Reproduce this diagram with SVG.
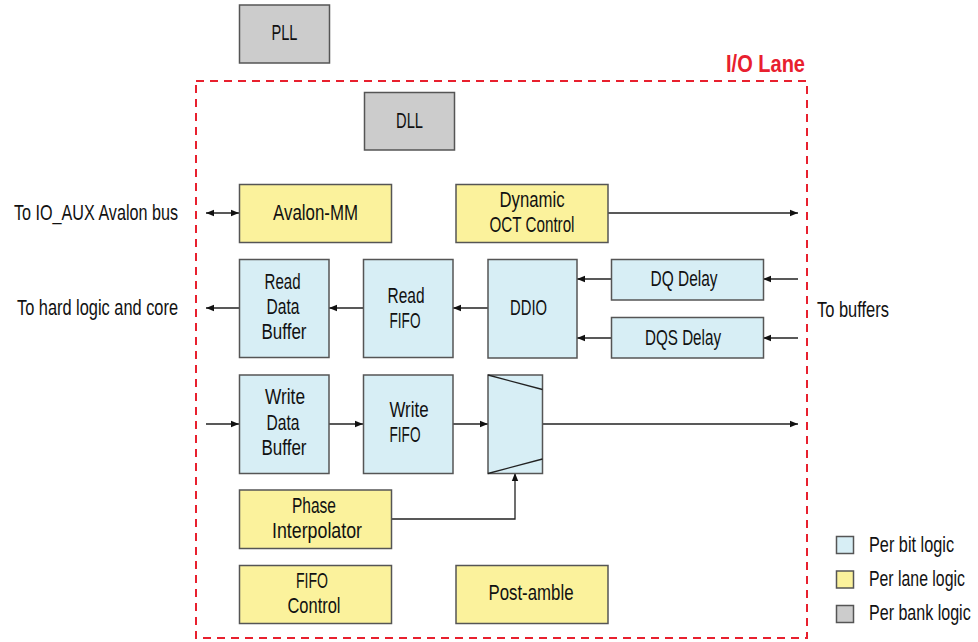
<svg xmlns="http://www.w3.org/2000/svg" width="978" height="642" viewBox="0 0 978 642">
<defs>
<style>
text{font-family:"Liberation Sans",Arial,sans-serif;font-size:22px;fill:#111;}
.c{text-anchor:middle;}
.r{text-anchor:end;}
.bit{fill:#d7eef5;stroke:#555;stroke-width:1.5;}
.lane{fill:#fbf29c;stroke:#555;stroke-width:1.5;}
.bank{fill:#cccccc;stroke:#555;stroke-width:1.5;}
.ln{fill:none;stroke:#222;stroke-width:1.3;}
.title{fill:#e8202e;font-weight:bold;font-size:23px;}
</style>
<marker id="ah" viewBox="0 0 10 10" refX="10" refY="5" markerWidth="8" markerHeight="8" orient="auto-start-reverse" markerUnits="userSpaceOnUse">
<path d="M0,1 L10,5 L0,9 Z" fill="#111"/>
</marker>
</defs>
<rect width="978" height="642" fill="#fff"/>
<rect x="196" y="81" width="611" height="557" fill="none" stroke="#e8202e" stroke-width="2" stroke-dasharray="8,6"/>
<text class="title r" x="805" y="72" textLength="79" lengthAdjust="spacingAndGlyphs">I/O Lane</text>

<g id="connectors">
<line class="ln" x1="206" y1="213" x2="239" y2="213" marker-start="url(#ah)" marker-end="url(#ah)"/>
<line class="ln" x1="608" y1="213" x2="798" y2="213" marker-end="url(#ah)"/>
<line class="ln" x1="798" y1="279" x2="763" y2="279" marker-end="url(#ah)"/>
<line class="ln" x1="798" y1="338" x2="763" y2="338" marker-end="url(#ah)"/>
<line class="ln" x1="611" y1="279" x2="577" y2="279" marker-end="url(#ah)"/>
<line class="ln" x1="611" y1="338" x2="577" y2="338" marker-end="url(#ah)"/>
<line class="ln" x1="488" y1="308" x2="453" y2="308" marker-end="url(#ah)"/>
<line class="ln" x1="363" y1="308" x2="329" y2="308" marker-end="url(#ah)"/>
<line class="ln" x1="239" y1="308" x2="206" y2="308" marker-end="url(#ah)"/>
<line class="ln" x1="206" y1="424" x2="239" y2="424" marker-end="url(#ah)"/>
<line class="ln" x1="329" y1="424" x2="363" y2="424" marker-end="url(#ah)"/>
<line class="ln" x1="453" y1="424" x2="488" y2="424" marker-end="url(#ah)"/>
<line class="ln" x1="542" y1="424" x2="798" y2="424" marker-end="url(#ah)"/>
<polyline class="ln" points="392,519 515,519 515,473" marker-end="url(#ah)"/>
</g>

<g id="PLL"><rect class="bank" x="239.5" y="5" width="90" height="58"/><text class="c" x="284.5" y="40" textLength="26" lengthAdjust="spacingAndGlyphs">PLL</text></g>
<g id="DLL"><rect class="bank" x="364.5" y="92.5" width="90" height="57.5"/><text class="c" x="409.5" y="128" textLength="27" lengthAdjust="spacingAndGlyphs">DLL</text></g>
<g id="AvalonMM"><rect class="lane" x="239.5" y="184.5" width="152" height="58"/><text class="c" x="315.5" y="220" textLength="85" lengthAdjust="spacingAndGlyphs">Avalon-MM</text></g>
<g id="DynamicOCT"><rect class="lane" x="456" y="184.5" width="152" height="58"/><text class="c" x="532" y="207" textLength="65" lengthAdjust="spacingAndGlyphs">Dynamic</text><text class="c" x="532" y="232" textLength="85" lengthAdjust="spacingAndGlyphs">OCT Control</text></g>
<g id="DQDelay"><rect class="bit" x="611.5" y="259.5" width="152" height="40.5"/><text class="c" x="684" y="286" textLength="67" lengthAdjust="spacingAndGlyphs">DQ Delay</text></g>
<g id="DQSDelay"><rect class="bit" x="611.5" y="317.5" width="152" height="40.5"/><text class="c" x="683" y="345" textLength="76" lengthAdjust="spacingAndGlyphs">DQS Delay</text></g>
<g id="DDIO"><rect class="bit" x="488" y="259.5" width="89" height="98.5"/><text class="c" x="528.5" y="315" textLength="37" lengthAdjust="spacingAndGlyphs">DDIO</text></g>
<g id="ReadFIFO"><rect class="bit" x="363.5" y="259.5" width="89.5" height="98"/><text class="c" x="406" y="303" textLength="37" lengthAdjust="spacingAndGlyphs">Read</text><text class="c" x="405" y="328" textLength="31" lengthAdjust="spacingAndGlyphs">FIFO</text></g>
<g id="ReadDataBuffer"><rect class="bit" x="239.5" y="259.5" width="89.5" height="98"/><text class="c" x="282.5" y="289" textLength="36" lengthAdjust="spacingAndGlyphs">Read</text><text class="c" x="283" y="314" textLength="33" lengthAdjust="spacingAndGlyphs">Data</text><text class="c" x="284" y="339" textLength="45" lengthAdjust="spacingAndGlyphs">Buffer</text></g>
<g id="WriteDataBuffer"><rect class="bit" x="239.5" y="375" width="89.5" height="98.5"/><text class="c" x="285" y="404" textLength="40" lengthAdjust="spacingAndGlyphs">Write</text><text class="c" x="283" y="430" textLength="33" lengthAdjust="spacingAndGlyphs">Data</text><text class="c" x="284" y="455" textLength="45" lengthAdjust="spacingAndGlyphs">Buffer</text></g>
<g id="WriteFIFO"><rect class="bit" x="363.5" y="375" width="89.5" height="98.5"/><text class="c" x="409" y="417" textLength="39" lengthAdjust="spacingAndGlyphs">Write</text><text class="c" x="405" y="442" textLength="31" lengthAdjust="spacingAndGlyphs">FIFO</text></g>
<g id="Mux"><rect class="bit" x="488" y="375" width="54.5" height="98.5"/><line class="ln" x1="488" y1="375" x2="542.5" y2="389.5"/><line class="ln" x1="488" y1="473.5" x2="542.5" y2="459"/></g>
<g id="PhaseInterpolator"><rect class="lane" x="239.5" y="490" width="152" height="58.5"/><text class="c" x="314" y="513" textLength="44" lengthAdjust="spacingAndGlyphs">Phase</text><text class="c" x="317" y="538" textLength="90" lengthAdjust="spacingAndGlyphs">Interpolator</text></g>
<g id="FIFOControl"><rect class="lane" x="239.5" y="565.5" width="152" height="58"/><text class="c" x="312" y="588" textLength="32" lengthAdjust="spacingAndGlyphs">FIFO</text><text class="c" x="314" y="613" textLength="53" lengthAdjust="spacingAndGlyphs">Control</text></g>
<g id="PostAmble"><rect class="lane" x="456" y="565.5" width="152" height="58"/><text class="c" x="531" y="600" textLength="85" lengthAdjust="spacingAndGlyphs">Post-amble</text></g>

<g id="labels">
<text class="r" x="178" y="220" textLength="164" lengthAdjust="spacingAndGlyphs">To IO_AUX Avalon bus</text>
<text class="r" x="178" y="315" textLength="161" lengthAdjust="spacingAndGlyphs">To hard logic and core</text>
<text x="817" y="317" textLength="72" lengthAdjust="spacingAndGlyphs">To buffers</text>
</g>

<g id="legend">
<rect class="bit" x="836.5" y="536.5" width="17" height="17"/><text transform="translate(869,552) scale(0.74,1)">Per bit logic</text>
<rect class="lane" x="836.5" y="571" width="17" height="17"/><text transform="translate(869,586) scale(0.72,1)">Per lane logic</text>
<rect class="bank" x="836.5" y="605.5" width="17" height="17"/><text transform="translate(869,620) scale(0.73,1)">Per bank logic</text>
</g>
</svg>
